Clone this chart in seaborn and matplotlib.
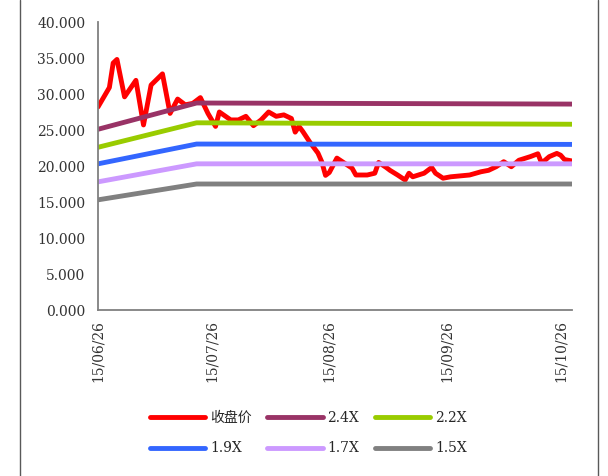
import pandas as pd
import matplotlib.pyplot as plt
import matplotlib.dates as mdates
from matplotlib.lines import Line2D
import seaborn as sns

# closing price
close_dates = [
    "2015-06-26", "2015-06-29", "2015-06-30", "2015-07-01", "2015-07-03", "2015-07-06",
    "2015-07-08", "2015-07-10", "2015-07-13", "2015-07-15", "2015-07-17", "2015-07-19",
    "2015-07-21", "2015-07-23", "2015-07-25", "2015-07-27", "2015-07-28", "2015-07-31",
    "2015-08-02", "2015-08-04", "2015-08-06", "2015-08-08", "2015-08-10", "2015-08-12",
    "2015-08-14", "2015-08-16", "2015-08-17", "2015-08-18", "2015-08-19", "2015-08-21",
    "2015-08-23", "2015-08-24", "2015-08-25", "2015-08-26", "2015-08-28", "2015-08-30",
    "2015-09-01", "2015-09-02", "2015-09-05", "2015-09-07", "2015-09-08", "2015-09-10",
    "2015-09-11", "2015-09-13", "2015-09-15", "2015-09-16", "2015-09-17", "2015-09-20",
    "2015-09-22", "2015-09-23", "2015-09-25", "2015-09-27", "2015-09-29", "2015-10-02",
    "2015-10-05", "2015-10-07", "2015-10-09", "2015-10-11", "2015-10-13", "2015-10-15",
    "2015-10-18", "2015-10-20", "2015-10-21", "2015-10-23", "2015-10-25", "2015-10-26",
    "2015-10-27", "2015-10-29",
]
close_values = [
    28.2, 30.9, 34.3, 34.8, 29.6, 31.9,
    25.7, 31.25, 32.8, 27.3, 29.3, 28.5,
    28.7, 29.5, 27.3, 25.5, 27.5, 26.4,
    26.4, 26.9, 25.6, 26.4, 27.5, 26.9,
    27.1, 26.6, 24.7, 25.5, 24.8, 23.2,
    21.8, 20.6, 18.7, 19.1, 21.1, 20.4,
    19.7, 18.75, 18.75, 19.0, 20.5, 19.8,
    19.4, 18.75, 18.05, 19.0, 18.5, 19.0,
    19.8, 19.0, 18.3, 18.5, 18.6, 18.75,
    19.2, 19.4, 19.9, 20.6, 19.9, 20.8,
    21.3, 21.7, 20.4, 21.3, 21.75, 21.5,
    20.9, 20.7,
]

# valuation bands (value at start, at the bend, at the end)
band_dates = ["2015-06-26", "2015-07-22", "2015-10-29"]
band_24 = [25.1, 28.75, 28.6]
band_22 = [22.6, 26.0, 25.8]
band_19 = [20.3, 23.05, 23.0]
band_17 = [17.8, 20.3, 20.3]
band_15 = [15.3, 17.5, 17.5]

band_labels = ["2.4X", "2.2X", "1.9X", "1.7X", "1.5X"]
band_colors = ["#993366", "#99CC00", "#3366FF", "#CC99FF", "#808080"]

tick_dates = ["2015-06-26", "2015-07-26", "2015-08-26", "2015-09-26", "2015-10-26"]

sns.set_style("white")
plt.rcParams['font.family'] = ['DejaVu Serif', 'Noto Sans CJK SC']

fig = plt.figure(figsize=(6.08, 4.76), dpi=100)
ax = fig.add_axes([98 / 608, 1 - 310 / 476, (572 - 98) / 608, (310 - 22) / 476])

line_kw = dict(linewidth=3.5, solid_capstyle='round', solid_joinstyle='round', sort=False)

# close price first, bands drawn on top like the original
sns.lineplot(x=pd.to_datetime(close_dates), y=close_values, color="#FF0000",
             label="收盘价", ax=ax, **line_kw)
for vals, lab, col in zip([band_24, band_22, band_19, band_17, band_15], band_labels, band_colors):
    sns.lineplot(x=pd.to_datetime(band_dates), y=vals, color=col, label=lab, ax=ax, **line_kw)

# axes
ax.set_xlim(pd.Timestamp("2015-06-26"), pd.Timestamp("2015-10-29"))
ax.set_ylim(0, 40)
ax.set_yticks(range(0, 41, 5))
ax.set_yticklabels([f"{v:.3f}" for v in range(0, 41, 5)])
ax.set_xticks(pd.to_datetime(tick_dates))
ax.xaxis.set_major_formatter(mdates.DateFormatter('%y/%m/%d'))
plt.setp(ax.get_xticklabels(), rotation=90, ha='center')
ax.tick_params(axis='both', length=0, labelsize=10, colors='#333333')
ax.tick_params(axis='y', pad=9)
ax.tick_params(axis='x', pad=7)
ax.set_xlabel("")
ax.set_ylabel("")
sns.despine(ax=ax)
for side in ['left', 'bottom']:
    ax.spines[side].set_color('#808080')
    ax.spines[side].set_linewidth(1.3)

# legend under the plot, filled row by row (matplotlib fills by column)
handles, labels = ax.get_legend_handles_labels()
ax.get_legend().remove()
order = [0, 3, 1, 4, 2, 5]
fig.legend([handles[i] for i in order], [labels[i] for i in order],
           loc='center', bbox_to_anchor=(0.507, 0.090), ncol=3,
           frameon=False, fontsize=10, handlelength=4, handletextpad=0.35,
           columnspacing=1.1, labelspacing=1.2)

# chart area border (left and right edges visible in the crop)
fig.add_artist(Line2D([20 / 608, 20 / 608], [0, 1], color='#595959', lw=1))
fig.add_artist(Line2D([598 / 608, 598 / 608], [0, 1], color='#595959', lw=1))

fig.savefig("out.png", dpi=100)
